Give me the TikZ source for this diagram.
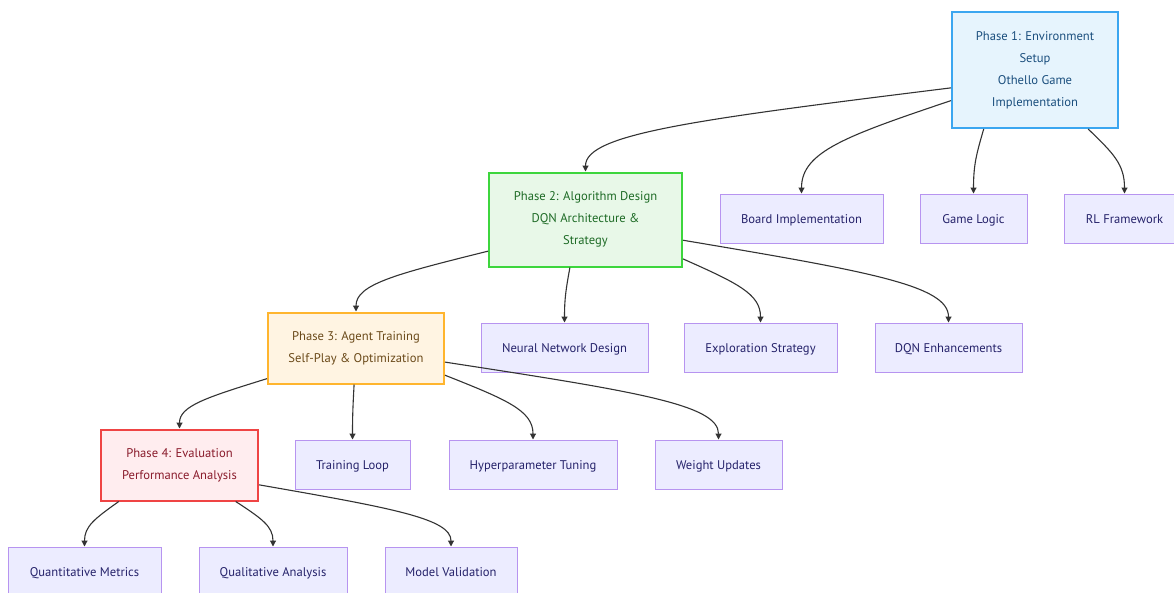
\documentclass[tikz,border=0pt]{standalone}
\usepackage{fontspec}
\setmainfont{PT Sans}
\usetikzlibrary{calc,arrows.meta}
\definecolor{leaffill}{HTML}{ECECFF}
\definecolor{leafdraw}{HTML}{B794F0}
\definecolor{leaftext}{HTML}{25226A}
\definecolor{aFill}{HTML}{E6F4FD}
\definecolor{aDraw}{HTML}{3BA6F0}
\definecolor{aText}{HTML}{1B4F7E}
\definecolor{bFill}{HTML}{E8F8E8}
\definecolor{bDraw}{HTML}{3DD63D}
\definecolor{bText}{HTML}{1E6B26}
\definecolor{cFill}{HTML}{FFF4E2}
\definecolor{cDraw}{HTML}{FFB52E}
\definecolor{cText}{HTML}{6B4A1A}
\definecolor{dFill}{HTML}{FFEDEF}
\definecolor{dDraw}{HTML}{EF4444}
\definecolor{dText}{HTML}{8A1C2C}
\definecolor{edgecol}{HTML}{333333}
\newcommand{\myedge}[2]{\draw[arr] let \p1=(#1), \p2=(#2) in (\p1) .. controls ({\x1+0.7*(\x2-\x1)},{\y1+0.38*(\y2-\y1)}) and (\x2,{\y2-0.45*(\y2-\y1)}) .. (\p2);}
\begin{document}
\begin{tikzpicture}[x=1pt,y=-1pt,
  base/.style={rectangle,inner sep=0pt,align=center,font=\fontsize{12.6}{22}\selectfont},
  leaf/.style={base,fill=leaffill,draw=leafdraw,line width=1pt,text=leaftext,minimum height=49pt,text height=11pt,text depth=1pt},
  phaseA/.style={base,fill=aFill,draw=aDraw,line width=2pt,text=aText},
  phaseB/.style={base,fill=bFill,draw=bDraw,line width=2pt,text=bText},
  phaseC/.style={base,fill=cFill,draw=cDraw,line width=2pt,text=cText},
  phaseD/.style={base,fill=dFill,draw=dDraw,line width=2pt,text=dText},
  arr/.style={draw=edgecol,line width=1.1pt,-{Triangle[length=6pt,width=6pt]}}]
\useasboundingbox (0,0) rectangle (1174,592);
\fill[white] (0,0) rectangle (1174,592);
% phases
\node[phaseA,minimum width=166pt,minimum height=116pt] (p1) at (1035,70) {Phase 1: Environment\\Setup\\Othello Game\\Implementation};
\node[phaseB,minimum width=193pt,minimum height=94pt] (p2) at (585.5,219.5) {Phase 2: Algorithm Design\\DQN Architecture \&\\Strategy};
\node[phaseC,minimum width=176pt,minimum height=71pt] (p3) at (356,348) {Phase 3: Agent Training\\Self-Play \& Optimization};
\node[phaseD,minimum width=157pt,minimum height=71pt] (p4) at (179.5,465) {Phase 4: Evaluation\\Performance Analysis};
% leaves
\node[leaf,minimum width=163pt] (board) at (801.5,218.5) {Board Implementation};
\node[leaf,minimum width=107pt] (logic) at (973.5,218.5) {Game Logic};
\node[leaf,minimum width=121pt] (rl) at (1124.5,218.5) {RL Framework};
\node[leaf,minimum width=167pt] (nn) at (564.5,347.5) {Neural Network Design};
\node[leaf,minimum width=153pt] (expl) at (760.5,347.5) {Exploration Strategy};
\node[leaf,minimum width=147pt] (dqn) at (948.5,347.5) {DQN Enhancements};
\node[leaf,minimum width=115pt] (loop) at (352.5,464.5) {Training Loop};
\node[leaf,minimum width=168pt] (hyper) at (533,464.5) {Hyperparameter Tuning};
\node[leaf,minimum width=127pt] (wu) at (718.5,464.5) {Weight Updates};
\node[leaf,minimum width=153pt] (quant) at (84.5,571.5) {Quantitative Metrics};
\node[leaf,minimum width=148pt] (qual) at (273,571.5) {Qualitative Analysis};
\node[leaf,minimum width=132pt] (model) at (451,571.5) {Model Validation};
% edges
\myedge{p1.192}{p2.north}
\myedge{p1.200}{board.north}
\myedge{p1.229}{logic.north}
\myedge{p1.312}{rl.north}
\myedge{p2.198}{p3.north}
\myedge{p2.252}{nn.north}
\myedge{p2.338}{expl.north}
\myedge{p2.348}{dqn.north}
\myedge{p3.199}{p4.north}
\myedge{p3.267}{loop.north}
\myedge{p3.343}{hyper.north}
\myedge{p3.351}{wu.north}
\myedge{p4.211}{quant.north}
\myedge{p4.327}{qual.north}
\myedge{p4.346}{model.north}
\end{tikzpicture}
\end{document}
